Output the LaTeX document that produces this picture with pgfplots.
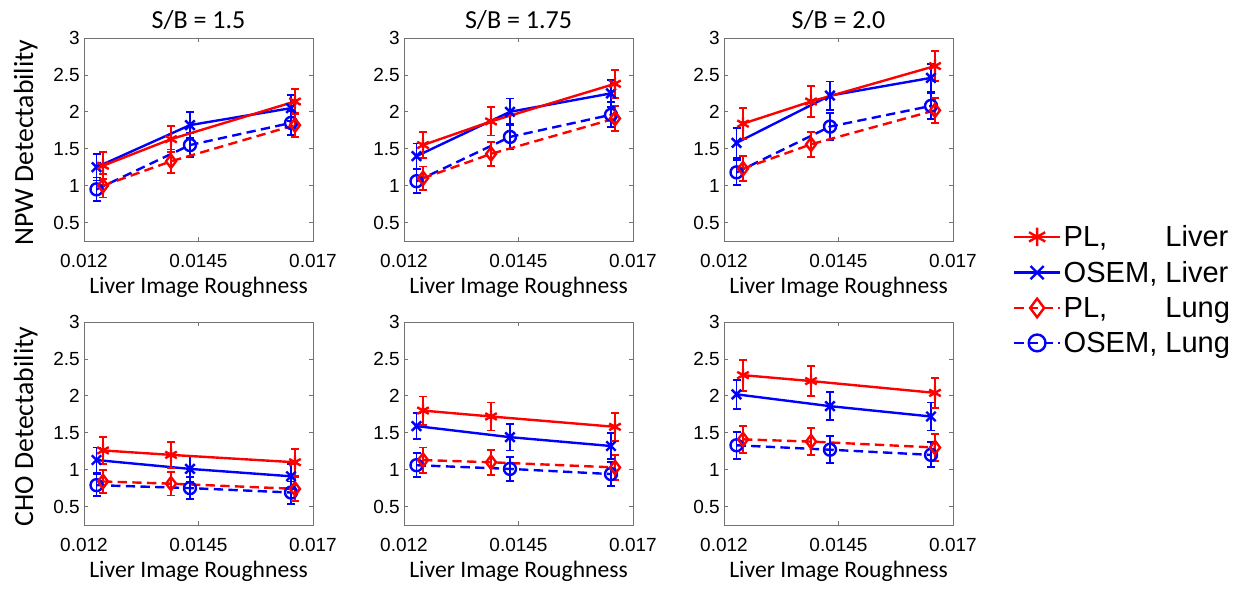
\documentclass[border=0pt]{standalone}
\usepackage{fontspec}
\setmainfont{Carlito}
\newfontfamily\arial{Liberation Sans}
\usepackage{pgfplots}
\pgfplotsset{compat=1.18}

\newcommand{\tfont}{\fontsize{19.5}{22}\selectfont}

\pgfplotsset{
  panel/.style={
    scale only axis, width=171.75pt, height=152.25pt,
    xmin=0.012, xmax=0.017, ymin=0.25, ymax=3,
    scaled x ticks=false, scaled y ticks=false,
    xtick={0.012,0.0145,0.017}, xticklabels={0.012,0.0145,0.017},
    ytick={0.5,1,1.5,2,2.5,3}, yticklabels={0.5,1,1.5,2,2.5,3},
    tick align=inside, major tick length=3pt,
    axis line style={black!55, line width=0.6pt},
    every tick/.style={black!55, line width=0.6pt},
    ticklabel style={font=\arial\fontsize{14.25}{17}\selectfont, text=black},
    xticklabel style={anchor=base, yshift=-19.5pt, inner sep=0pt},
    yticklabel style={anchor=east, inner sep=0pt, xshift=-3pt},
    xlabel={Liver Image Roughness},
    xlabel style={font=\fontsize{17.7}{20}\selectfont, at={(axis description cs:0.5,0)}, anchor=base, yshift=-39pt},
    ylabel style={font=\fontsize{20.8}{24}\selectfont, at={(axis description cs:-0.2227,0.485)}, anchor=base},
    legend image code/.code={%
      \draw[mark repeat=2,mark phase=2,##1, every mark/.append style={scale=1.4}]
        plot coordinates {(0pt,0pt) (17pt,0pt) (34pt,0pt)};},
  },
  errs/.style={
    error bars/y dir=both, error bars/y explicit,
    error bars/error bar style={line width=1.4pt, solid},
    error bars/error mark options={rotate=90, line width=1.4pt, mark size=3pt, solid},
  },
  plliver/.style={red, line width=1.8pt, mark=asterisk, mark size=5pt, mark options={solid}, errs},
  osliver/.style={blue, line width=1.8pt, mark=x, mark size=5pt, mark options={solid}, errs},
  pllung/.style={red, line width=1.8pt, dash pattern=on 7pt off 4pt, mark=diamond, mark size=5pt, mark options={solid}, errs},
  oslung/.style={blue, line width=1.8pt, dash pattern=on 7pt off 4pt, mark=o, mark size=4.5pt, mark options={solid}, errs},
}

\begin{document}
\begin{tikzpicture}
\path[use as bounding box] (0,0) rectangle (932.25pt,-442.5pt);

% ---- NPW detectability, S/B = 1.5
\begin{axis}[panel, name=npwA, at={(63pt,-28.5pt)}, anchor=north west,
  ylabel={NPW Detectability}]
\addplot[oslung] coordinates {(0.012273,0.95) +- (0,0.16) (0.014314,1.55) +- (0,0.16) (0.01652,1.85) +- (0,0.16)};
\addplot[pllung] coordinates {(0.012415,1.00) +- (0,0.16) (0.0139,1.33) +- (0,0.16) (0.016607,1.82) +- (0,0.16)};
\addplot[osliver] coordinates {(0.012273,1.25) +- (0,0.18) (0.014314,1.82) +- (0,0.18) (0.01652,2.05) +- (0,0.18)};
\addplot[plliver] coordinates {(0.012415,1.27) +- (0,0.18) (0.0139,1.63) +- (0,0.18) (0.016607,2.14) +- (0,0.17)};
\end{axis}

% ---- NPW detectability, S/B = 1.75
\begin{axis}[panel, name=npwB, at={(303pt,-28.5pt)}, anchor=north west]
\addplot[oslung] coordinates {(0.012273,1.06) +- (0,0.16) (0.014314,1.66) +- (0,0.17) (0.01652,1.96) +- (0,0.17)};
\addplot[pllung] coordinates {(0.012415,1.10) +- (0,0.16) (0.0139,1.43) +- (0,0.16) (0.016607,1.91) +- (0,0.17)};
\addplot[osliver] coordinates {(0.012273,1.40) +- (0,0.17) (0.014314,2.00) +- (0,0.18) (0.01652,2.25) +- (0,0.18)};
\addplot[plliver] coordinates {(0.012415,1.55) +- (0,0.18) (0.0139,1.87) +- (0,0.19) (0.016607,2.38) +- (0,0.19)};
\end{axis}

% ---- NPW detectability, S/B = 2.0 (carries the legend)
\begin{axis}[panel, name=npwC, at={(543pt,-28.5pt)}, anchor=north west,
  reverse legend, legend cell align=left,
  legend style={at={(axis description cs:1.262,-0.24)}, anchor=west, draw=none, fill=none,
    font=\arial\fontsize{21.8}{25}\selectfont, row sep=5.5pt, inner sep=0pt}]
\addplot[oslung] coordinates {(0.012273,1.18) +- (0,0.17) (0.014314,1.80) +- (0,0.18) (0.01652,2.08) +- (0,0.18)};
\addlegendentry{OSEM, Lung}
\addplot[pllung] coordinates {(0.012415,1.23) +- (0,0.17) (0.0139,1.56) +- (0,0.17) (0.016607,2.02) +- (0,0.17)};
\addlegendentry{\rlap{PL,}\phantom{OSEM,} Lung}
\addplot[osliver] coordinates {(0.012273,1.58) +- (0,0.20) (0.014314,2.22) +- (0,0.19) (0.01652,2.46) +- (0,0.19)};
\addlegendentry{OSEM, Liver}
\addplot[plliver] coordinates {(0.012415,1.84) +- (0,0.21) (0.0139,2.14) +- (0,0.21) (0.016607,2.62) +- (0,0.20)};
\addlegendentry{\rlap{PL,}\phantom{OSEM,} Liver}
\end{axis}

% column titles
\node[font=\tfont, anchor=base] at ([yshift=7.5pt]npwA.north) {S/B = 1.5};
\node[font=\tfont, anchor=base] at ([yshift=7.5pt]npwB.north) {S/B = 1.75};
\node[font=\tfont, anchor=base] at ([yshift=7.5pt]npwC.north) {S/B = 2.0};

% ---- CHO detectability, S/B = 1.5
\begin{axis}[panel, at={(63pt,-241.5pt)}, anchor=north west,
  ylabel={CHO Detectability}]
\addplot[oslung] coordinates {(0.012273,0.79) +- (0,0.15) (0.014314,0.75) +- (0,0.15) (0.01652,0.69) +- (0,0.15)};
\addplot[pllung] coordinates {(0.012415,0.84) +- (0,0.16) (0.0139,0.81) +- (0,0.16) (0.016607,0.74) +- (0,0.16)};
\addplot[osliver] coordinates {(0.012273,1.13) +- (0,0.17) (0.014314,1.01) +- (0,0.17) (0.01652,0.91) +- (0,0.17)};
\addplot[plliver] coordinates {(0.012415,1.26) +- (0,0.18) (0.0139,1.20) +- (0,0.18) (0.016607,1.10) +- (0,0.18)};
\end{axis}

% ---- CHO detectability, S/B = 1.75
\begin{axis}[panel, at={(303pt,-241.5pt)}, anchor=north west]
\addplot[oslung] coordinates {(0.012273,1.06) +- (0,0.16) (0.014314,1.01) +- (0,0.16) (0.01652,0.94) +- (0,0.16)};
\addplot[pllung] coordinates {(0.012415,1.13) +- (0,0.17) (0.0139,1.10) +- (0,0.17) (0.016607,1.03) +- (0,0.17)};
\addplot[osliver] coordinates {(0.012273,1.59) +- (0,0.18) (0.014314,1.44) +- (0,0.18) (0.01652,1.32) +- (0,0.18)};
\addplot[plliver] coordinates {(0.012415,1.80) +- (0,0.19) (0.0139,1.72) +- (0,0.19) (0.016607,1.58) +- (0,0.19)};
\end{axis}

% ---- CHO detectability, S/B = 2.0
\begin{axis}[panel, at={(543pt,-241.5pt)}, anchor=north west]
\addplot[oslung] coordinates {(0.012273,1.33) +- (0,0.18) (0.014314,1.27) +- (0,0.18) (0.01652,1.20) +- (0,0.17)};
\addplot[pllung] coordinates {(0.012415,1.41) +- (0,0.18) (0.0139,1.38) +- (0,0.18) (0.016607,1.30) +- (0,0.18)};
\addplot[osliver] coordinates {(0.012273,2.02) +- (0,0.20) (0.014314,1.86) +- (0,0.19) (0.01652,1.72) +- (0,0.19)};
\addplot[plliver] coordinates {(0.012415,2.28) +- (0,0.21) (0.0139,2.20) +- (0,0.20) (0.016607,2.04) +- (0,0.20)};
\end{axis}
\end{tikzpicture}
\end{document}
